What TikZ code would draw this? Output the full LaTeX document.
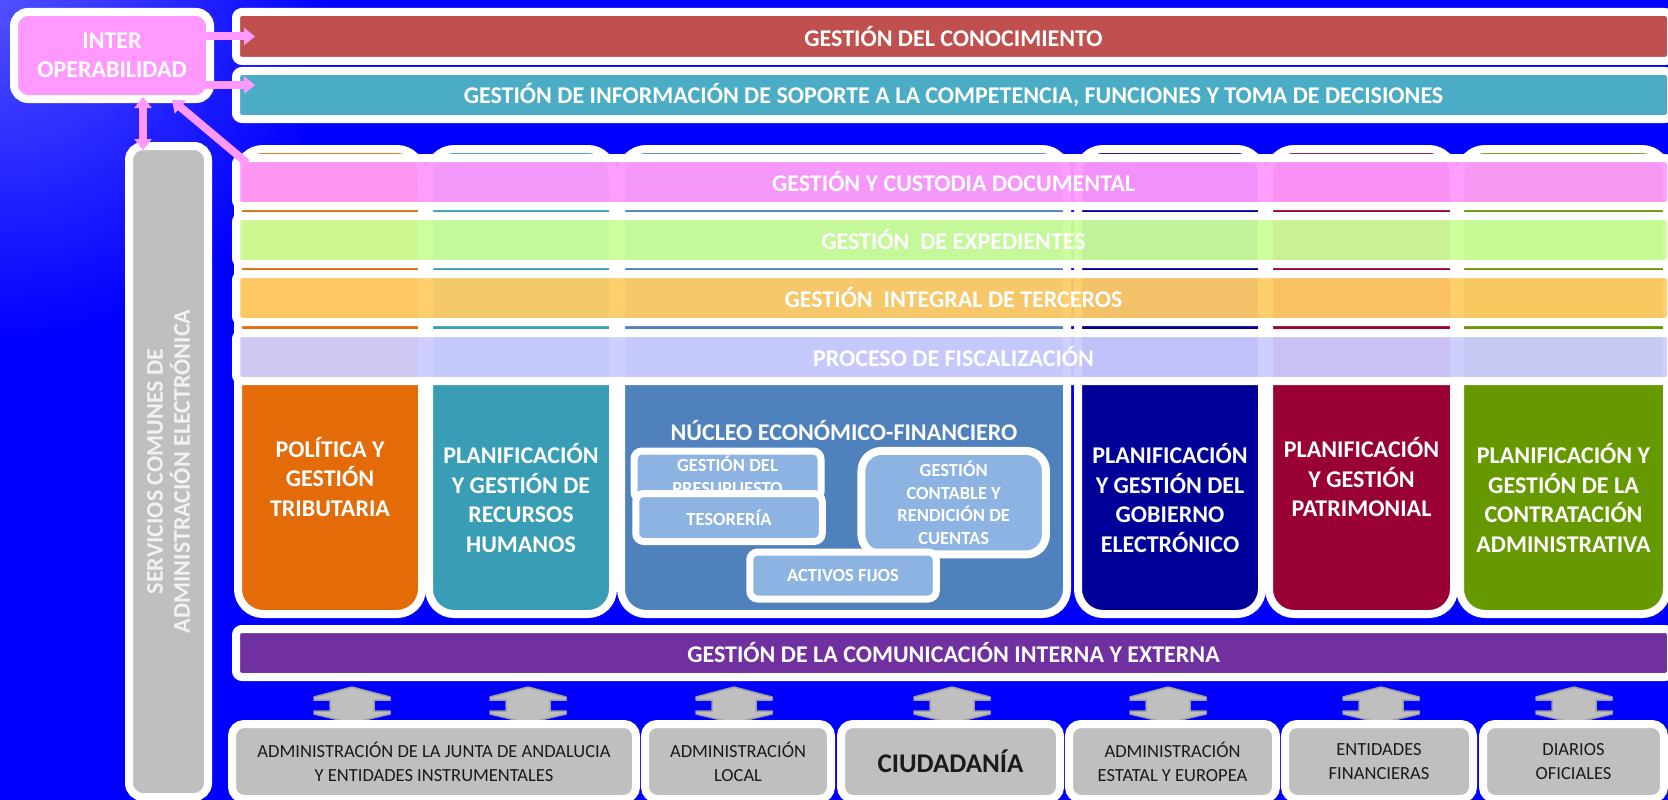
\documentclass[tikz,border=0pt]{standalone}
\usepackage{fontspec}
\setmainfont{Carlito}
\usetikzlibrary{calc,arrows.meta}
\definecolor{bgblue}{RGB}{0,0,255}
\definecolor{bglight}{RGB}{80,80,255}
\definecolor{pinkc}{HTML}{FF99FF}
\definecolor{redbar}{HTML}{C0504D}
\definecolor{tealbar}{HTML}{4BACC6}
\definecolor{greenl}{HTML}{CCFF99}
\definecolor{orangel}{HTML}{FFCC66}
\definecolor{lavend}{HTML}{CCCCFF}
\definecolor{purplebar}{HTML}{7030A0}
\definecolor{colorange}{HTML}{E36C09}
\definecolor{colteal}{HTML}{399DB5}
\definecolor{colblue}{HTML}{4F81BD}
\definecolor{colnavy}{HTML}{000099}
\definecolor{colcrimson}{HTML}{990033}
\definecolor{colgreen}{HTML}{669900}
\definecolor{subblue}{HTML}{8DB3E2}
\definecolor{grayc}{HTML}{BFBFBF}
\definecolor{grayedge}{HTML}{A0A0A0}
\definecolor{textgray}{HTML}{1A1A1A}
\definecolor{servtext}{HTML}{F2F2F2}
\tikzset{
  wb/.style={draw=white, line width=8pt, inner sep=0pt, outer sep=0pt, align=center, text=white},
  bigfont/.style={font=\bfseries\fontsize{24}{29.5}\selectfont},
  subfont/.style={font=\bfseries\fontsize{18.5}{22.5}\selectfont},
  botfont/.style={font=\fontsize{18.5}{24}\selectfont, text=textgray},
  bar/.style={wb, rounded corners=6pt, minimum width=1435pt, minimum height=48pt, bigfont},
  overbar/.style={bar, fill opacity=0.95, text opacity=1},
  colbox/.style={wb, rounded corners=25pt, minimum height=465pt},
  lbl/.style={bigfont, text=white, align=center, inner sep=0pt},
  subbox/.style={draw=white, line width=7pt, fill=subblue, rounded corners=8pt, inner sep=0pt, outer sep=0pt, text=white, align=center, subfont},
  botbox/.style={wb, fill=grayc, rounded corners=12pt, minimum height=75pt, botfont},
  parrow/.style={draw=pinkc, line width=8pt, -{Triangle[width=17pt,length=11pt]}},
  pdarrow/.style={draw=pinkc, line width=8pt, {Triangle[width=17pt,length=11pt]}-{Triangle[width=17pt,length=11pt]}},
  blockarrow/.style={fill=grayc, draw=grayedge, line width=1.5pt, line join=round},
}
\begin{document}
\begin{tikzpicture}[x=1pt,y=-1pt]
\useasboundingbox (0,0) rectangle (1668,800);
% background
\fill[bgblue] (0,0) rectangle (1668,800);
\begin{scope}
\clip (0,0) rectangle (1668,800);
\shade[inner color=bglight, outer color=bgblue] (0,0) circle (340);
\end{scope}
% top
\node[wb, fill=pinkc, rounded corners=14pt, minimum width=196pt, minimum height=87pt, bigfont] (inter) at (112,55.5) {INTER\\OPERABILIDAD};
\node[bar, fill=redbar, minimum height=49pt] (kn) at (953.5,36.5) {GESTIÓN DEL CONOCIMIENTO};
\node[bar, fill=tealbar] (tb) at (953.5,95) {GESTIÓN DE INFORMACIÓN DE SOPORTE A LA COMPETENCIA, FUNCIONES Y TOMA DE DECISIONES};
% servicios comunes
\node[wb, fill=grayc, rounded corners=14pt, minimum width=79pt, minimum height=651pt] (serv) at (168.5,471.5) {};
\node[rotate=90, text=servtext, font=\bfseries\fontsize{24}{27}\selectfont, align=center, inner sep=0pt] (servlbl) at (serv.center) {SERVICIOS COMUNES DE\\ADMINISTRACIÓN ELECTRÓNICA};
% columns
\node[colbox, fill=colorange, minimum width=184pt] (c1) at (330,381.5) {};
\node[colbox, fill=colteal, minimum width=184pt] (c2) at (521,381.5) {};
\node[colbox, fill=colblue, minimum width=446pt] (c3) at (844,381.5) {};
\node[colbox, fill=colnavy, minimum width=184pt] (c4) at (1170,381.5) {};
\node[colbox, fill=colcrimson, minimum width=185pt] (c5) at (1361.5,381.5) {};
\node[colbox, fill=colgreen, minimum width=207pt] (c6) at (1563.5,381.5) {};
\node[lbl] (l1) at (330,477) {POLÍTICA Y\\GESTIÓN\\TRIBUTARIA};
\node[lbl] (l2) at (521,498) {PLANIFICACIÓN\\Y GESTIÓN DE\\RECURSOS\\HUMANOS};
\node[lbl] (l3) at (844,431) {NÚCLEO ECONÓMICO-FINANCIERO};
\node[lbl] (l4) at (1170,498) {PLANIFICACIÓN\\Y GESTIÓN DEL\\GOBIERNO\\ELECTRÓNICO};
\node[lbl] (l5) at (1361.5,477) {PLANIFICACIÓN\\Y GESTIÓN\\PATRIMONIAL};
\node[lbl] (l6) at (1563.5,498) {PLANIFICACIÓN Y\\GESTIÓN DE LA\\CONTRATACIÓN\\ADMINISTRATIVA};
% nucleo sub boxes
\node[subbox, minimum width=187pt, minimum height=49pt] (pres) at (727.5,475.5) {GESTIÓN DEL\\PRESUPUESTO};
\node[subbox, minimum width=186.5pt, minimum height=48pt] (tes) at (729,517.5) {TESORERÍA};
\node[subbox, line width=8pt, rounded corners=20pt, minimum width=184.5pt, minimum height=103.5pt] (cont) at (953.7,502.7) {GESTIÓN\\CONTABLE Y\\RENDICIÓN DE\\CUENTAS};
\node[subbox, minimum width=186.5pt, minimum height=47pt] (act) at (843,575.5) {ACTIVOS FIJOS};
% horizontal overlay bars
\node[overbar, fill=pinkc] (b1) at (953.5,182) {GESTIÓN Y CUSTODIA DOCUMENTAL};
\node[overbar, fill=greenl] (b2) at (953.5,240) {GESTIÓN\ \ DE EXPEDIENTES};
\node[overbar, fill=orangel] (b3) at (953.5,298) {GESTIÓN\ \ INTEGRAL DE TERCEROS};
\node[overbar, fill=lavend] (b4) at (953.5,357) {PROCESO DE FISCALIZACIÓN};
% communication bar
\node[bar, fill=purplebar] (com) at (953.5,653) {GESTIÓN DE LA COMUNICACIÓN INTERNA Y EXTERNA};
% block arrows
\foreach \cx in {352,528,734,952,1168,1381,1574}{
  \draw[blockarrow] (\cx,687) -- ++(38,10) -- ++(0,3) -- ++(-16,0) -- ++(0,11) -- ++(16,0) -- ++(0,3)
    -- (\cx,723) -- ++(-38,-9) -- ++(0,-3) -- ++(16,0) -- ++(0,-11) -- ++(-16,0) -- ++(0,-3) -- cycle;
}
% bottom boxes
\node[botbox, minimum width=404pt] (o1) at (434,761.5) {ADMINISTRACIÓN DE LA JUNTA DE ANDALUCIA\\Y ENTIDADES INSTRUMENTALES};
\node[botbox, minimum width=186pt] (o2) at (738,761.5) {ADMINISTRACIÓN\\LOCAL};
\node[botbox, minimum width=219pt, font=\bfseries\fontsize{27}{32}\selectfont] (o3) at (950.5,761.5) {CIUDADANÍA};
\node[botbox, minimum width=207pt] (o4) at (1172.5,761.5) {ADMINISTRACIÓN\\ESTATAL Y EUROPEA};
\node[botbox, minimum width=188pt] (o5) at (1379,761.5) {ENTIDADES\\FINANCIERAS};
\node[botbox, minimum width=181pt] (o6) at (1573.5,761.5) {DIARIOS\\OFICIALES};
% pink connectors
\draw[parrow] ($(inter.east |- kn.west)+(-5,0)$) -- ($(kn.west)+(19,0)$);
\draw[parrow] ($(inter.east |- tb.west)+(-5,-10)$) -- ($(tb.west)+(19,-10)$);
\draw[pdarrow] ($(inter.south)+(31,-2)$) -- ($(serv.north)+(-25.5,4)$);
\draw[parrow] ($(b1.north west)+(11,5)$) -- ($(inter.south)+(60,1)$);
\end{tikzpicture}
\end{document}
